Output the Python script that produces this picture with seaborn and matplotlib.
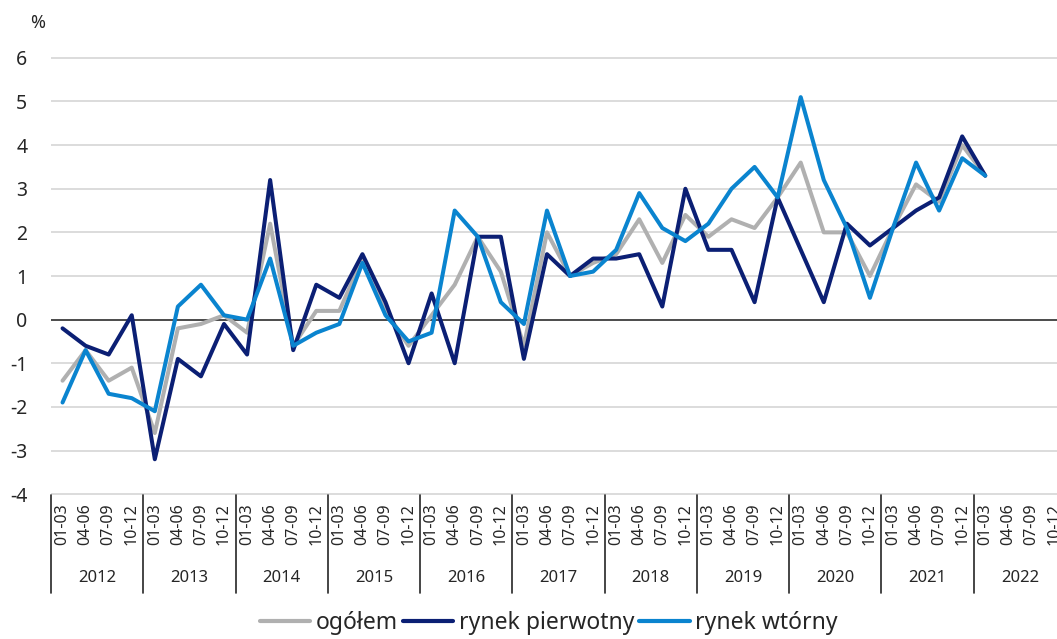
import numpy as np
import pandas as pd
import matplotlib
matplotlib.use("Agg")
import matplotlib.pyplot as plt
import seaborn as sns
from matplotlib.transforms import blended_transform_factory

years = [str(y) for y in range(2012, 2023)]
quarters = ["01-03", "04-06", "07-09", "10-12"]

ogolem = [-1.4, -0.7, -1.4, -1.1, -2.6, -0.2, -0.1, 0.1, -0.3, 2.2,
          -0.6, 0.2, 0.2, 1.4, 0.2, -0.6, 0.1, 0.8, 1.9, 1.1,
          -0.6, 2.0, 1.0, 1.3, 1.5, 2.3, 1.3, 2.4, 1.9, 2.3,
          2.1, 2.8, 3.6, 2.0, 2.0, 1.0, 2.1, 3.1, 2.7, 4.0, 3.3]
pierwotny = [-0.2, -0.6, -0.8, 0.1, -3.2, -0.9, -1.3, -0.1, -0.8, 3.2,
             -0.7, 0.8, 0.5, 1.5, 0.4, -1.0, 0.6, -1.0, 1.9, 1.9,
             -0.9, 1.5, 1.0, 1.4, 1.4, 1.5, 0.3, 3.0, 1.6, 1.6,
             0.4, 2.8, 1.6, 0.4, 2.2, 1.7, 2.1, 2.5, 2.8, 4.2, 3.3]
wtorny = [-1.9, -0.7, -1.7, -1.8, -2.1, 0.3, 0.8, 0.1, 0.0, 1.4,
          -0.6, -0.3, -0.1, 1.3, 0.1, -0.5, -0.3, 2.5, 1.9, 0.4,
          -0.1, 2.5, 1.0, 1.1, 1.6, 2.9, 2.1, 1.8, 2.2, 3.0,
          3.5, 2.8, 5.1, 3.2, 2.1, 0.5, 2.1, 3.6, 2.5, 3.7, 3.3]

series_names = ["ogółem", "rynek pierwotny", "rynek wtórny"]
colors = ["#B0B0B0", "#0B1F74", "#0A84CF"]
yticks = list(range(-4, 7))

sns.set_theme(style="white")
plt.rcParams["font.family"] = ["Noto Sans", "DejaVu Sans"]
plt.rcParams["axes.unicode_minus"] = False
text_color = "#262626"

n = len(ogolem)
df = pd.DataFrame({
    "idx": np.tile(np.arange(n), 3),
    "value": ogolem + pierwotny + wtorny,
    "series": np.repeat(series_names, n),
})

W, H = 1057, 639
fig = plt.figure(figsize=(W / 100, H / 100), dpi=100)
ax = fig.add_axes([51 / W, (H - 495) / H, 1015 / W, 438 / H])

sns.lineplot(data=df, x="idx", y="value", hue="series", hue_order=series_names,
             palette=colors, linewidth=2.9, ax=ax, sort=False, legend=True)

ncat = len(years) * len(quarters)
ax.set_xlim(-0.5, ncat - 0.5)
ax.set_ylim(-4.02, 6.02)
ax.set_yticks(yticks)
ax.set_yticklabels([str(v) for v in yticks])
ax.grid(axis="y", color="#D9D9D9", linewidth=1.3)
ax.grid(axis="x", visible=False)
ax.axhline(0, color="#404040", linewidth=1.3, zorder=1.5)
for s in ax.spines.values():
    s.set_visible(False)
ax.set_xlabel("")
ax.set_ylabel("")

ax.tick_params(axis="y", length=0, pad=17, labelsize=14, labelcolor=text_color)
ax.set_xticks(range(ncat))
ax.set_xticklabels(quarters * len(years), rotation=90, fontsize=11.5, color=text_color)
ax.tick_params(axis="x", length=0, pad=6)

trans = blended_transform_factory(ax.transData, ax.transAxes)
sep_bottom = -(593 - 495) / 438
for k in range(len(years) + 1):
    x = 4 * k - 0.5
    ax.plot([x, x], [0, sep_bottom], transform=trans, color=text_color,
            linewidth=1.2, clip_on=False)
for k, yr in enumerate(years):
    ax.text(4 * k + 1.5, -(578 - 495) / 438, yr, transform=trans, ha="center",
            va="center", fontsize=12, color=text_color)

fig.text(38 / W, 1 - 23 / H, "%", ha="center", va="center", fontsize=13, color=text_color)

handles, labels = ax.get_legend_handles_labels()
for h in handles:
    h.set_linewidth(3)
ax.legend(handles, labels, loc="center", bbox_to_anchor=(549 / W, (H - 623) / H),
          bbox_transform=fig.transFigure, ncol=3, frameon=False, fontsize=16.5,
          handlelength=2.2, handletextpad=0.25, columnspacing=0.2,
          labelcolor=text_color)

fig.savefig("out.png", dpi=100)
